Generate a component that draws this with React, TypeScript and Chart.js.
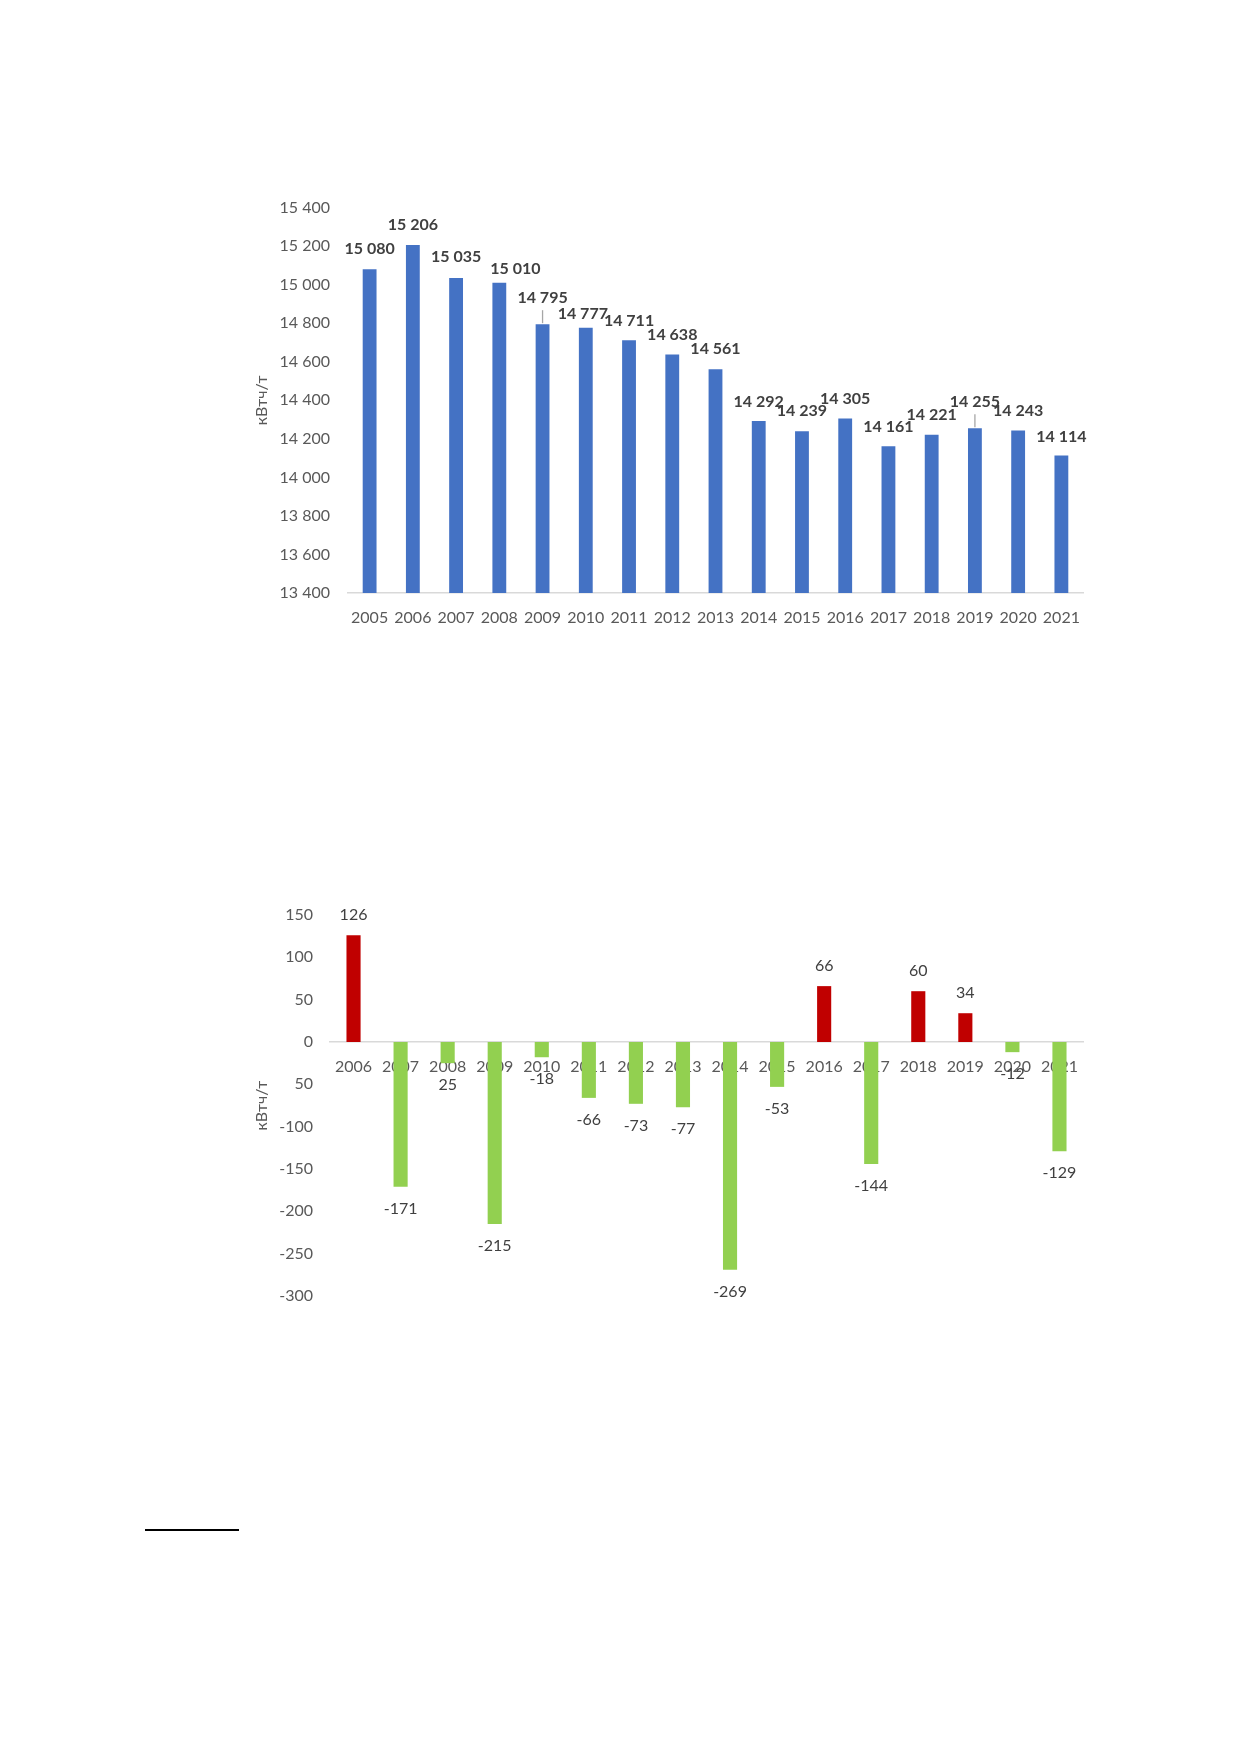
import React, { useEffect, useRef } from 'react';
import { Chart, registerables } from 'chart.js';

Chart.register(...registerables);

// ---- data ----
const years = ['2005', '2006', '2007', '2008', '2009', '2010', '2011', '2012', '2013', '2014', '2015', '2016', '2017', '2018', '2019', '2020', '2021'];
const intensity = [15080, 15206, 15035, 15010, 14795, 14777, 14711, 14638, 14561, 14292, 14239, 14305, 14161, 14221, 14255, 14243, 14114];
const intensityAxis = { min: 13400, max: 15400, step: 200 };

const changeYears = ['2006', '2007', '2008', '2009', '2010', '2011', '2012', '2013', '2014', '2015', '2016', '2017', '2018', '2019', '2020', '2021'];
const change = [126, -171, -25, -215, -18, -66, -73, -77, -269, -53, 66, -144, 60, 34, -12, -129];
const changeAxis = { min: -300, max: 150, step: 50 };

// label nudges (px) for the top chart, as placed in the original
const topLabelDx = [0, 0, 0, 16, 0, -3, 0, 0, 0, 0, 0, 0, 0, 0, 0, 0, 0];
const topLabelLift = [20, 20, 21, 14, 26, 14, 20, 20, 20, 19, 20, 20, 20, 20, 26, 20, 19];
const topLeaders = [4, 14];

const FONT = "Lato, 'Open Sans', sans-serif";
const TICK = '#595959';
const LABEL = '#404040';
const AXIS_LINE = '#D9D9D9';
const BLUE = '#4472C4';
const RED = '#C00000';
const GREEN = '#92D050';
const UNIT = 'кВтч/т';

const spaced = (v: number) => {
  const s = Math.abs(v).toString().replace(/\B(?=(\d{3})+(?!\d))/g, ' ');
  return v < 0 ? '-' + s : s;
};

const axisTitle = (x: number) => ({
  id: 'axisTitle',
  afterDraw(chart: Chart) {
    const { ctx, chartArea } = chart;
    ctx.save();
    ctx.translate(x, (chartArea.top + chartArea.bottom) / 2);
    ctx.rotate(-Math.PI / 2);
    ctx.font = `16px ${FONT}`;
    ctx.fillStyle = TICK;
    ctx.textAlign = 'center';
    ctx.textBaseline = 'middle';
    ctx.fillText(UNIT, 0, 0);
    ctx.restore();
  },
});

const topLabels = {
  id: 'topLabels',
  afterDatasetsDraw(chart: Chart) {
    const { ctx } = chart;
    const meta = chart.getDatasetMeta(0);
    ctx.save();
    ctx.font = `bold 16px ${FONT}`;
    ctx.fillStyle = LABEL;
    ctx.textAlign = 'center';
    ctx.textBaseline = 'middle';
    meta.data.forEach((el: any, i: number) => {
      const tx = el.x + topLabelDx[i];
      const ty = el.y - topLabelLift[i];
      if (topLeaders.includes(i)) {
        ctx.strokeStyle = '#A6A6A6';
        ctx.lineWidth = 1.3;
        ctx.beginPath();
        ctx.moveTo(tx, ty + 12);
        ctx.lineTo(el.x, el.y - 1);
        ctx.stroke();
      }
      ctx.fillText(spaced(intensity[i]), tx, ty);
    });
    ctx.restore();
  },
};

const changeLabels = {
  id: 'changeLabels',
  afterDatasetsDraw(chart: Chart) {
    const { ctx } = chart;
    const meta = chart.getDatasetMeta(0);
    ctx.save();
    ctx.font = `16px ${FONT}`;
    ctx.fillStyle = LABEL;
    ctx.textAlign = 'center';
    ctx.textBaseline = 'middle';
    meta.data.forEach((el: any, i: number) => {
      const v = change[i];
      // the 2008 label shows without its minus sign in the original
      const text = i === 2 ? String(Math.abs(v)) : String(v);
      ctx.fillText(text, el.x, v >= 0 ? el.y - 20 : el.y + 22);
    });
    ctx.restore();
  },
};

function IntensityChart() {
  const canvasRef = useRef<HTMLCanvasElement>(null);
  useEffect(() => {
    if (!canvasRef.current) return;
    const chart = new Chart(canvasRef.current, {
      type: 'bar',
      data: {
        labels: years,
        datasets: [{ data: intensity, backgroundColor: BLUE, barPercentage: 0.32, categoryPercentage: 1 }],
      },
      options: {
        animation: false,
        responsive: true,
        maintainAspectRatio: false,
        layout: { padding: { top: 27, right: 37, bottom: 0, left: 0 } },
        plugins: { legend: { display: false }, tooltip: { enabled: false } },
        scales: {
          x: {
            grid: { display: false, drawTicks: false },
            border: { display: true, color: AXIS_LINE, width: 1.5 },
            ticks: { color: TICK, font: { family: FONT, size: 16 }, padding: 15, maxRotation: 0, autoSkip: false },
            afterFit: (s: any) => { s.height = 47; },
          },
          y: {
            min: intensityAxis.min,
            max: intensityAxis.max,
            grid: { display: false, drawTicks: false },
            border: { display: false },
            ticks: {
              stepSize: intensityAxis.step,
              color: TICK,
              font: { family: FONT, size: 16 },
              padding: 18,
              callback: (v: any) => spaced(Number(v)),
            },
            afterFit: (s: any) => { s.width = 148; },
          },
        },
      } as any,
      plugins: [topLabels, axisTitle(62)],
    });
    return () => chart.destroy();
  }, []);
  return (
    <div style={{ position: 'absolute', left: 200, top: 180, width: 920, height: 460 }}>
      <canvas ref={canvasRef} />
    </div>
  );
}

function ChangeChart() {
  const canvasRef = useRef<HTMLCanvasElement>(null);
  useEffect(() => {
    if (!canvasRef.current) return;
    const chart = new Chart(canvasRef.current, {
      type: 'bar',
      data: {
        labels: changeYears,
        datasets: [{
          data: change,
          backgroundColor: change.map(v => (v >= 0 ? RED : GREEN)),
          barPercentage: 0.3,
          categoryPercentage: 1,
        }],
      },
      options: {
        animation: false,
        responsive: true,
        maintainAspectRatio: false,
        layout: { padding: { top: 35, right: 37, bottom: 44, left: 0 } },
        plugins: { legend: { display: false }, tooltip: { enabled: false } },
        scales: {
          x: {
            position: { y: 0 },
            grid: { display: false, drawTicks: false },
            border: { display: true, color: AXIS_LINE, width: 1.5 },
            ticks: { color: TICK, font: { family: FONT, size: 16 }, padding: 15, maxRotation: 0, autoSkip: false },
          },
          y: {
            min: changeAxis.min,
            max: changeAxis.max,
            grid: { display: false, drawTicks: false },
            border: { display: false },
            ticks: {
              stepSize: changeAxis.step,
              color: TICK,
              font: { family: FONT, size: 16 },
              padding: 17,
              // "-50" appears as "50" in the original
              callback: (v: any) => (Number(v) === -50 ? '50' : String(v)),
            },
            afterFit: (s: any) => { s.width = 130; },
          },
        },
      } as any,
      plugins: [changeLabels, axisTitle(62)],
    });
    return () => chart.destroy();
  }, []);
  return (
    <div style={{ position: 'absolute', left: 200, top: 880, width: 920, height: 460 }}>
      <canvas ref={canvasRef} />
    </div>
  );
}

export default function App() {
  return (
    <div style={{ position: 'absolute', left: 0, top: 0, width: 1240, height: 1754, background: '#fff' }}>
      <IntensityChart />
      <ChangeChart />
      <div style={{ position: 'absolute', left: 145, top: 1529, width: 94, height: 2, background: '#000' }} />
    </div>
  );
}
